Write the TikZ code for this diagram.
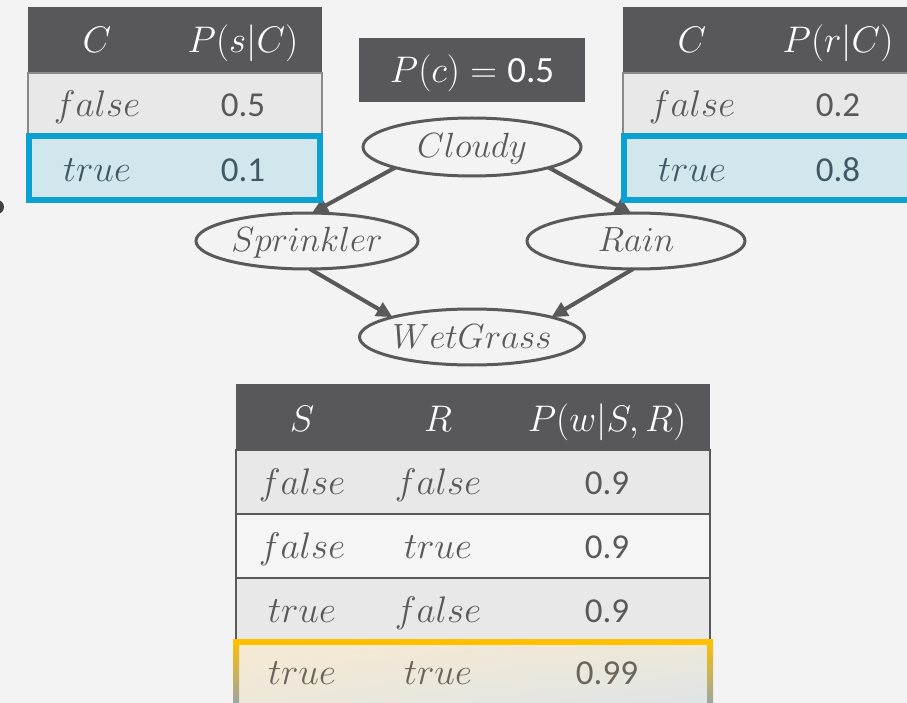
\RequirePackage{fix-cm}
\documentclass[tikz,border=0pt]{standalone}
\usepackage{fontspec}
\newfontfamily\numf{Carlito}
\usetikzlibrary{shapes.geometric,arrows.meta,shadings}
\definecolor{bg}{HTML}{F3F3F3}
\definecolor{hdr}{HTML}{58585A}
\definecolor{rowg}{HTML}{E8E8E8}
\definecolor{roww}{HTML}{F5F5F5}
\definecolor{rowline}{HTML}{8A8A8A}
\definecolor{blu}{HTML}{0BA1D3}
\definecolor{blufill}{HTML}{D1E7ED}
\definecolor{org}{HTML}{FFC000}
\definecolor{txt}{HTML}{595959}
\definecolor{blutxt}{HTML}{3F5964}
\definecolor{orgtxt}{HTML}{6A645A}
\definecolor{bgray}{HTML}{8FA3B8}
\definecolor{cream}{HTML}{F6EAD2}
\definecolor{pale}{HTML}{DCE3E9}
\begin{document}
\begin{tikzpicture}[x=1pt,y=-1pt,
  every node/.style={inner sep=0pt,outer sep=0pt},
  mt/.style={font=\fontsize{37}{42}\selectfont,anchor=base},
  nt/.style={font=\numf\fontsize{35}{40}\selectfont,anchor=base},
  var/.style={ellipse,draw=txt,line width=3pt,text=txt,
    font=\fontsize{35}{40}\selectfont,text height=27pt,text depth=5pt,
    minimum width=218pt,minimum height=58pt},
  arr/.style={draw=txt,line width=4pt,-{Triangle[length=16pt,width=15pt]}},
  hdrcell/.style={fill=hdr},
  graycell/.style={fill=rowg,draw=txt,line width=2pt},
  whitecell/.style={fill=roww,draw=txt,line width=2pt},
  bluecell/.style={fill=blufill,draw=blu,line width=6pt}]
\useasboundingbox (0,0) rectangle (907,703);
\clip (0,0) rectangle (907,703);
\fill[bg] (0,0) rectangle (907,703);
\fill[black!75] (-3,207) circle (7);

% network
\node[var] (cloudy) at (472,147) {$Cloudy$};
\node[var,minimum width=222pt,minimum height=56pt] (sprinkler) at (307,241) {$Sprinkler$};
\node[var,minimum height=56pt] (rain) at (636,241) {$Rain$};
\node[var,minimum height=56pt] (wet) at (472,337) {$WetGrass$};
\draw[arr] (cloudy.195) -- (sprinkler.80);
\draw[arr] (cloudy.345) -- (rain.100);
\draw[arr] (sprinkler.276) -- (wet.166);
\draw[arr] (rain.264) -- (wet.14);

% P(c) box
\node[fill=hdr,minimum width=226pt,minimum height=64pt] (pcbox) at (472,70) {};
\node[mt,text=white] (pc) at (472,83) {$P(c)={}$\numf 0.5};

% left table
\fill[hdrcell] (28,7) rectangle (322,73);
\draw[fill=rowg,draw=rowline,line width=1.5pt] (28,73) rectangle (322,136);
\draw[bluecell] (29,136) rectangle (320,200);
\node[mt,text=white] (lh1) at (97,53) {$C$};
\node[mt,text=white] (lh2) at (243,53) {$P(s|C)$};
\node[mt,text=txt] (l11) at (97,117) {$false$};
\node[nt,text=txt] (l12) at (243,117) {0.5};
\node[mt,text=blutxt] (l21) at (97,182) {$true$};
\node[nt,text=blutxt] (l22) at (243,182) {0.1};

% right table
\fill[hdrcell] (623,7) rectangle (930,73);
\draw[fill=rowg,draw=rowline,line width=1.5pt] (623,73) rectangle (935,136);
\draw[bluecell] (624,136) rectangle (935,200);
\node[mt,text=white] (rh1) at (692,53) {$C$};
\node[mt,text=white] (rh2) at (838,53) {$P(r|C)$};
\node[mt,text=txt] (r11) at (692,117) {$false$};
\node[nt,text=txt] (r12) at (838,117) {0.2};
\node[mt,text=blutxt] (r21) at (692,182) {$true$};
\node[nt,text=blutxt] (r22) at (838,182) {0.8};

% bottom table
\fill[hdrcell] (236,384) rectangle (710,450);
\draw[graycell] (236,450) rectangle (710,514);
\draw[whitecell] (236,514) rectangle (710,578);
\draw[graycell] (236,578) rectangle (710,642);
\shade[upper left=cream,upper right=cream!70!pale,lower left=cream!60!pale,lower right=pale] (236,642) rectangle (710,715);
\shade[top color=org,middle color=org,bottom color=bgray] (233,639) rectangle (239,712);
\shade[top color=org,middle color=org,bottom color=bgray] (707,639) rectangle (713,712);
\draw[org,line width=6pt] (233,642) -- (713,642);
\node[mt,text=white] (bh1) at (302,431) {$S$};
\node[mt,text=white] (bh2) at (438,431) {$R$};
\node[mt,text=white] (bh3) at (607,431) {$P(w|S,R)$};
\node[mt,text=txt] (b11) at (302,494) {$false$};
\node[mt,text=txt] (b12) at (438,494) {$false$};
\node[nt,text=txt] (b13) at (607,494) {0.9};
\node[mt,text=txt] (b21) at (302,558) {$false$};
\node[mt,text=txt] (b22) at (438,558) {$true$};
\node[nt,text=txt] (b23) at (607,558) {0.9};
\node[mt,text=txt] (b31) at (302,622) {$true$};
\node[mt,text=txt] (b32) at (438,622) {$false$};
\node[nt,text=txt] (b33) at (607,622) {0.9};
\node[mt,text=orgtxt] (b41) at (302,684) {$true$};
\node[mt,text=orgtxt] (b42) at (438,684) {$true$};
\node[nt,text=orgtxt] (b43) at (607,684) {0.99};
\end{tikzpicture}
\end{document}
